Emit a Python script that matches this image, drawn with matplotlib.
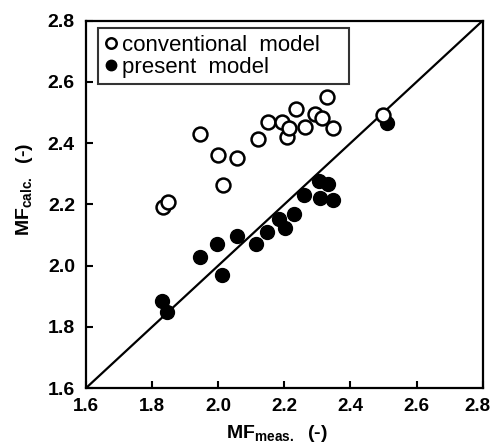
import matplotlib
matplotlib.use("Agg")
import matplotlib.pyplot as plt
from matplotlib.transforms import ScaledTranslation

plt.rcParams['font.family'] = ['Liberation Sans', 'DejaVu Sans']
plt.rcParams['mathtext.default'] = 'regular'

conv_x = [1.834, 1.849, 1.945, 2.000, 2.013, 2.058, 2.119, 2.150, 2.192, 2.209,
          2.215, 2.234, 2.262, 2.293, 2.313, 2.328, 2.348, 2.497]
conv_y = [2.191, 2.207, 2.429, 2.362, 2.264, 2.353, 2.413, 2.468, 2.468, 2.419,
          2.451, 2.511, 2.454, 2.494, 2.481, 2.550, 2.451, 2.492]
pres_x = [1.831, 1.844, 1.945, 1.995, 2.010, 2.058, 2.114, 2.147, 2.185, 2.202,
          2.230, 2.259, 2.306, 2.308, 2.333, 2.348, 2.510]
pres_y = [1.883, 1.848, 2.027, 2.070, 1.970, 2.097, 2.070, 2.109, 2.153, 2.122,
          2.168, 2.229, 2.275, 2.220, 2.266, 2.213, 2.467]
ticks = [1.6, 1.8, 2.0, 2.2, 2.4, 2.6, 2.8]
tick_labels = ['1.6', '1.8', '2.0', '2.2', '2.4', '2.6', '2.8']

fig = plt.figure(figsize=(4.93, 4.45), dpi=100)
ax = fig.add_axes([0.1745, 0.128, 0.8045, 0.8255])

ax.plot([1.6, 2.8], [1.6, 2.8], color='black', lw=1.6, zorder=1)
ax.plot(conv_x, conv_y, 'o', ms=10, mfc='white', mec='black', mew=1.8,
        label='conventional  model', zorder=3)
ax.plot(pres_x, pres_y, 'o', ms=10, mfc='black', mec='black', mew=1.0,
        label='present  model', zorder=2)

ax.set_xlim(1.6, 2.8)
ax.set_ylim(1.6, 2.8)
ax.set_xticks(ticks)
ax.set_xticklabels(tick_labels)
ax.set_yticks(ticks)
ax.set_yticklabels(tick_labels)
ax.tick_params(direction='in', length=5, width=1.5, labelsize=14)
ax.tick_params(axis='x', pad=7, labelsize=13.5)
ax.tick_params(axis='y', pad=8)
for t in ax.get_xticklabels() + ax.get_yticklabels():
    t.set_fontweight('bold')
for s in ax.spines.values():
    s.set_linewidth(1.6)

# keep the last x tick label inside the canvas
last = ax.get_xticklabels()[-1]
last.set_transform(last.get_transform() + ScaledTranslation(-4 / 72, 0, fig.dpi_scale_trans))

ax.set_xlabel(r'MF$_{meas.}$  (-)', fontsize=14, fontweight='bold')
ax.set_ylabel(r'MF$_{calc.}$  (-)', fontsize=14, fontweight='bold')
ax.xaxis.set_label_coords(0.481, -0.095)
ax.yaxis.set_label_coords(-0.128, 0.54)

leg = ax.legend(loc='upper left', bbox_to_anchor=(0.030, 0.0, 0.633, 0.980),
                mode='expand', borderaxespad=0, frameon=True, fancybox=False,
                edgecolor='black', fontsize=16, handletextpad=0.18, borderpad=0.3,
                labelspacing=0.05, handlelength=0.6, markerscale=0.75)
leg.get_frame().set_linewidth(1.5)

fig.savefig('out.png', dpi=100)
